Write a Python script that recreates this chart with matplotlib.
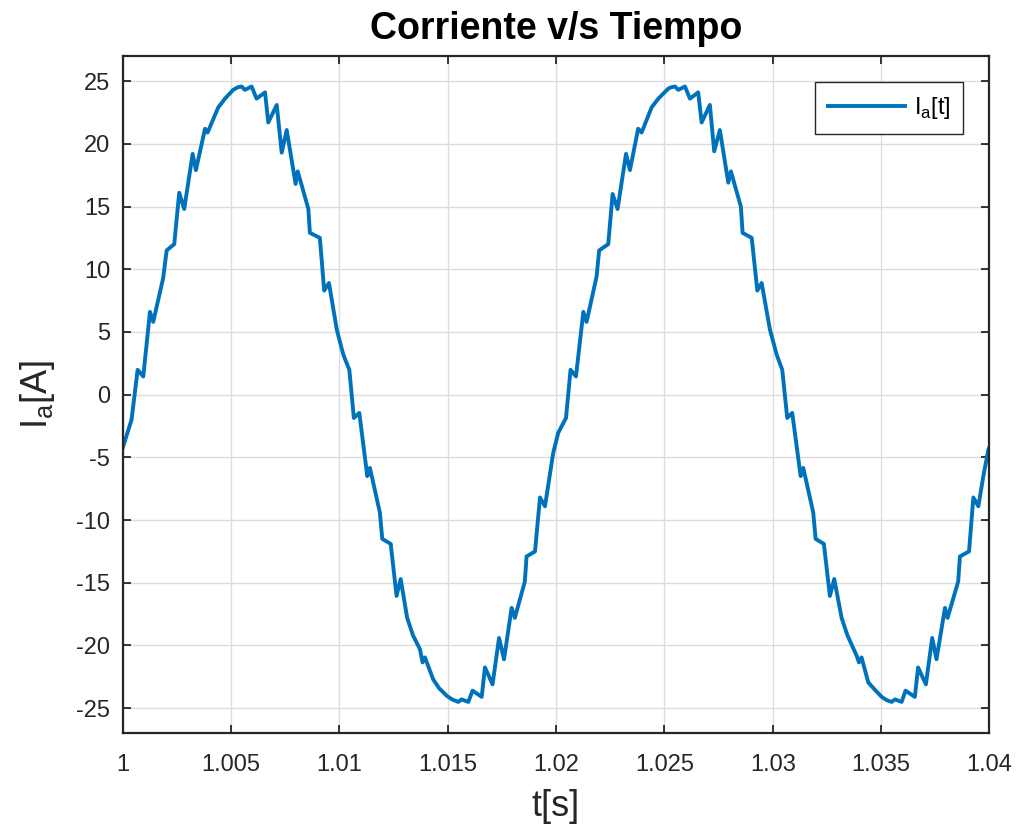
import numpy as np
import matplotlib.pyplot as plt

# time in ms after t = 1 s, current in A
t_ms_1 = [0.00, 0.41, 0.69, 0.95, 1.26, 1.41, 1.87, 2.03, 2.38, 2.61, 2.84,
          3.23, 3.38, 3.80, 3.92, 4.41, 4.72, 5.10, 5.30, 5.49, 5.64, 5.95,
          6.18, 6.57, 6.72, 7.11, 7.34, 7.57, 7.98, 8.08, 8.57, 8.64, 9.10,
          9.30, 9.52, 9.88, 10.18, 10.46, 10.67, 10.92, 11.29, 11.41, 11.87,
          11.98, 12.37, 12.64, 12.83, 13.13, 13.40, 13.72, 13.84, 13.95,
          14.33, 14.60, 14.95, 15.20, 15.49, 15.64, 15.95, 16.15, 16.57,
          16.72, 17.07, 17.37, 17.60, 17.95, 18.10, 18.56, 18.64, 19.03,
          19.26, 19.49, 19.87]
i_a_1 = [-4.25, -2.0, 1.98, 1.45, 6.6, 5.8, 9.3, 11.5, 12.0, 16.1, 14.8,
         19.2, 17.9, 21.2, 20.9, 22.9, 23.6, 24.3, 24.5, 24.57, 24.3, 24.57,
         23.6, 24.1, 21.7, 23.1, 19.3, 21.1, 16.8, 17.8, 14.8, 12.9, 12.5,
         8.3, 8.9, 5.2, 3.2, 1.98, -1.86, -1.46, -6.5, -5.84, -9.4,
         -11.5, -11.9, -16.05, -14.7, -17.8, -19.2, -20.3, -21.35, -20.95,
         -22.7, -23.4, -24.0, -24.3, -24.5, -24.3, -24.5, -23.6, -24.1,
         -21.75, -23.1, -19.4, -21.1, -17.0, -17.8, -14.9, -12.9, -12.5,
         -8.2, -8.9, -4.65]

t_ms_2 = [20.10, 20.46, 20.67, 20.92, 21.26, 21.41, 21.87, 21.99, 22.41,
          22.61, 22.84, 23.23, 23.41, 23.79, 23.95, 24.41, 24.72, 25.18,
          25.30, 25.49, 25.64, 25.95, 26.18, 26.56, 26.72, 27.10, 27.30,
          27.56, 27.95, 28.07, 28.53, 28.61, 29.03, 29.29, 29.49, 29.87,
          30.18, 30.44, 30.67, 30.90, 31.29, 31.41, 31.87, 31.98, 32.36,
          32.64, 32.84, 33.18, 33.45, 33.87, 33.98, 34.10, 34.41, 34.70,
          35.03, 35.25, 35.49, 35.64, 35.95, 36.13, 36.56, 36.71, 37.07,
          37.36, 37.56, 37.95, 38.07, 38.56, 38.64, 39.06, 39.26, 39.49,
          39.72, 39.95, 40.00]
i_a_2 = [-3.05, -1.86, 1.98, 1.45, 6.6, 5.8, 9.4, 11.5, 12.0,
         16.0, 14.8, 19.2, 17.9, 21.2, 20.9, 22.9, 23.6, 24.4,
         24.5, 24.57, 24.3, 24.57, 23.6, 24.1, 21.7, 23.1, 19.4,
         21.1, 16.9, 17.8, 15.0, 12.9, 12.5, 8.3, 8.9, 5.2,
         3.2, 1.98, -1.86, -1.46, -6.5, -5.84, -9.4, -11.5, -11.9,
         -16.05, -14.7, -17.8, -19.2, -20.8, -21.35, -20.95, -22.95, -23.5,
         -24.1, -24.35, -24.5, -24.3, -24.5, -23.6, -24.1, -21.75, -23.1,
         -19.4, -21.1, -17.0, -17.8, -14.9, -12.9, -12.5, -8.2, -8.9,
         -6.5, -4.4, -4.2]

x_ticks = [1, 1.005, 1.01, 1.015, 1.02, 1.025, 1.03, 1.035, 1.04]
x_labels = ['1', '1.005', '1.01', '1.015', '1.02', '1.025', '1.03', '1.035', '1.04']
y_ticks = [-25, -20, -15, -10, -5, 0, 5, 10, 15, 20, 25]

plt.rcParams['font.family'] = ['Liberation Sans', 'DejaVu Sans']
plt.rcParams['axes.unicode_minus'] = False

t = 1 + np.array(t_ms_1 + t_ms_2) / 1000.0
i_a = np.array(i_a_1 + i_a_2)

fig = plt.figure(figsize=(10.18, 8.31), dpi=100)
ax = fig.add_axes([0.1205, 0.1176, 0.8514, 0.815])

ax.plot(t, i_a, color='#0072BD', linewidth=2.8, label=r'I$_\mathregular{a}$[t]')

ax.set_xlim(1, 1.04)
ax.set_ylim(-27, 27)
ax.set_xticks(x_ticks)
ax.set_xticklabels(x_labels)
ax.set_yticks(y_ticks)
ax.grid(True, color='#dcdcdc', linewidth=1)
ax.set_axisbelow(True)

for s in ax.spines.values():
    s.set_color('#262626')
    s.set_linewidth(1.6)
ax.tick_params(direction='in', length=6, width=1.3, colors='#262626',
               labelsize=17, top=True, right=True)
ax.tick_params(axis='x', pad=15)
ax.tick_params(axis='y', pad=9)

ax.set_title('Corriente v/s Tiempo', fontsize=27, fontweight='bold', pad=12)
ax.set_xlabel('t[s]', fontsize=26, color='#262626', labelpad=9)
ax.set_ylabel(r'I$_\mathregular{a}$[A]', fontsize=26, color='#262626', labelpad=14)

leg = ax.legend(loc='upper right', fontsize=17, fancybox=False, framealpha=1,
                edgecolor='#262626', borderaxespad=1.1, handlelength=3.3,
                handletextpad=0.35, borderpad=0.55)
leg.get_frame().set_linewidth(1.0)

plt.savefig('out.png', dpi=100)
